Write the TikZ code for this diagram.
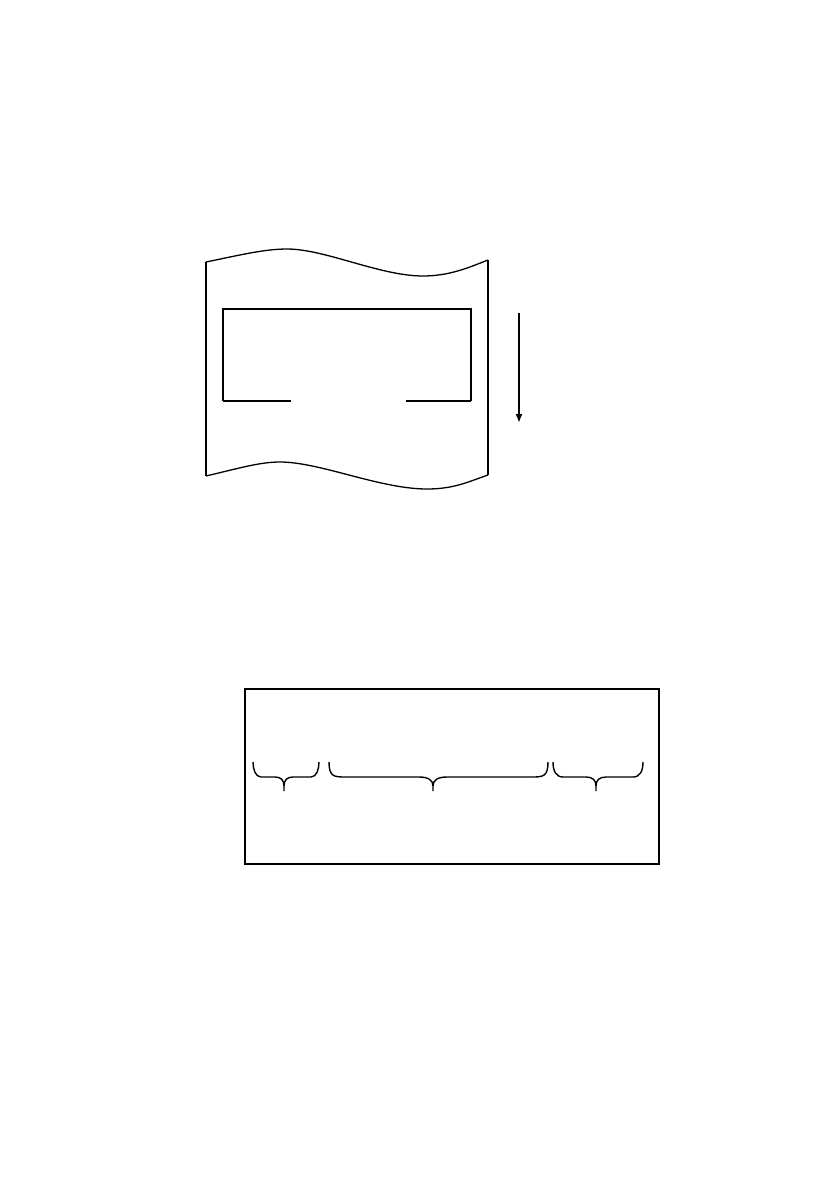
\documentclass[tikz,border=0pt]{standalone}
\usetikzlibrary{arrows.meta}
\newcommand{\downbrace}[5]{%
  \draw[bracepath] (#1,762) .. controls (#1,{762+0.9*#4}) and ({#1+0.3*#4},777) .. ({#1+#4},777)
    -- ({#2-#5},777) .. controls ({#2-0.35*#5},777) and (#2,780) .. (#2,786) -- (#2,791)
    (#2,786) .. controls (#2,780) and ({#2+0.35*#5},777) .. ({#2+#5},777)
    -- ({#3-#4},777) .. controls ({#3-0.3*#4},777) and (#3,{762+0.9*#4}) .. (#3,762);}
\begin{document}
\begin{tikzpicture}[x=1pt,y=-1pt,
  wave/.style={line width=1.3pt,line join=round},
  frame/.style={line width=2pt},
  thin/.style={line width=1.2pt},
  bracepath/.style={line width=1.4pt,line join=round}]
\useasboundingbox[fill=white] (0,0) rectangle (839,1191);
% sheet with wavy edges
\coordinate (tl) at (206,262);
\coordinate (tr) at (488,260);
\coordinate (bl) at (206,476);
\coordinate (br) at (488,475);
\draw[wave] (tl) .. controls (240,255) and (265,249) .. (287,249)
  .. controls (325,249) and (380,276) .. (423,276)
  .. controls (450,276) and (470,267) .. (tr);
\draw[wave] (bl) .. controls (240,468) and (260,462) .. (280,462)
  .. controls (320,462) and (380,489) .. (427,489)
  .. controls (455,489) and (470,481) .. (br);
\draw[wave] (tl) -- (bl);
\draw[wave] (tr) -- (br);
% inner window
\coordinate (w1) at (291,401);
\coordinate (w2) at (223,401);
\coordinate (w3) at (223,309);
\coordinate (w4) at (471,309);
\coordinate (w5) at (471,401);
\coordinate (w6) at (406,401);
\draw[frame] (w2) -- (w3) -- (w4) -- (w5);
\draw[thin] (w2) -- (w1);
\draw[thin] (w6) -- (w5);
% direction arrow
\coordinate (a1) at (519,313);
\coordinate (a2) at (519,423);
\draw[line width=1.8pt,-{Latex[length=9pt,width=7pt]}] (a1) -- (a2);
% lower box
\node[draw,line width=1.2pt,minimum width=414pt,minimum height=175pt,inner sep=0pt] (box) at (452,776.5) {};
% braces
\downbrace{253}{284}{319}{8}{9}
\downbrace{329}{433}{548}{16}{14}
\downbrace{553}{596}{643}{10}{10}
\end{tikzpicture}
\end{document}
